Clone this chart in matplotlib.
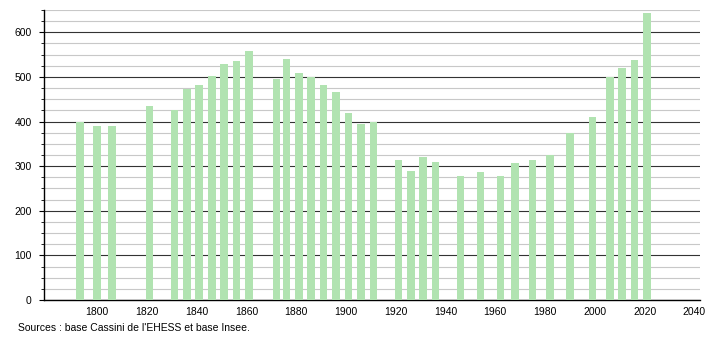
import matplotlib
matplotlib.use('Agg')
import matplotlib.pyplot as plt
from matplotlib.ticker import MultipleLocator

plt.rcParams['font.family'] = ['Liberation Sans', 'DejaVu Sans']

# census years and population
years = [1793, 1800, 1806, 1821, 1831, 1836, 1841, 1846, 1851, 1856, 1861,
         1872, 1876, 1881, 1886, 1891, 1896, 1901, 1906, 1911,
         1921, 1926, 1931, 1936, 1946, 1954, 1962, 1968, 1975, 1982,
         1990, 1999, 2006, 2011, 2016, 2021]
population = [400, 389, 389, 434, 425, 474, 483, 503, 529, 535, 557,
              495, 540, 508, 500, 483, 466, 420, 394, 400,
              314, 290, 320, 310, 279, 288, 277, 308, 313, 326,
              375, 410, 500, 520, 538, 643]
x_ticks = list(range(1800, 2041, 20))
source = "Sources : base Cassini de l'EHESS et base Insee."

fig = plt.figure(figsize=(7.1, 3.4), dpi=100)
ax = fig.add_axes([0.0624, 0.1176, 0.9236, 0.853])

ax.bar(years, population, width=3.05, color='#b1e3b1', zorder=3)

ax.set_xlim(1778.7, 2042.3)
ax.set_ylim(0, 650)
ax.set_xticks(x_ticks)
ax.yaxis.set_major_locator(MultipleLocator(100))
ax.yaxis.set_minor_locator(MultipleLocator(25))

ax.grid(axis='y', which='major', color='#333333', linewidth=0.8, zorder=1)
ax.grid(axis='y', which='minor', color='#c8c8c8', linewidth=0.8, zorder=1)

for s in ['top', 'right']:
    ax.spines[s].set_visible(False)
ax.spines['left'].set_linewidth(1.0)
ax.spines['bottom'].set_linewidth(1.0)

ax.tick_params(axis='x', length=0, labelsize=7.5, pad=5)
ax.tick_params(axis='y', which='major', length=3.6, labelsize=7.5, pad=5.5)
ax.tick_params(axis='y', which='minor', length=2.5)

fig.text(18 / 710, 1 - 328 / 340, source, fontsize=7.5, va='center', ha='left')

fig.savefig('out.png', dpi=100)
